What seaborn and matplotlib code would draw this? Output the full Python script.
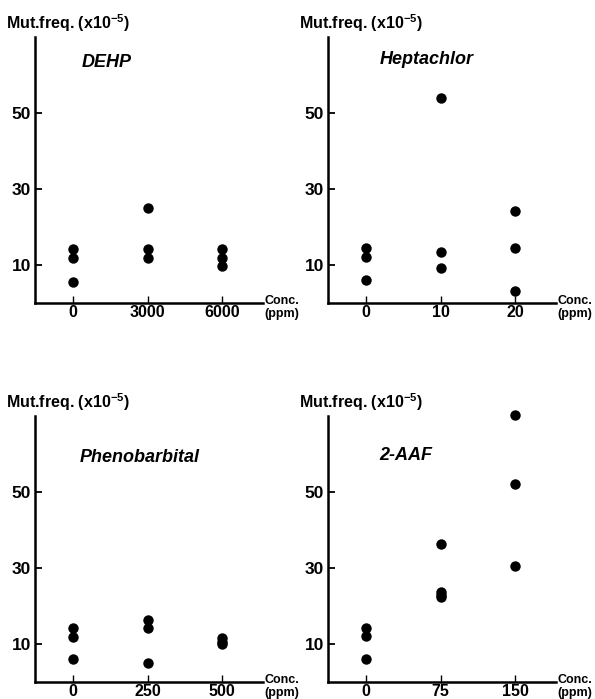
import pandas as pd
import matplotlib
matplotlib.use("Agg")
import matplotlib.pyplot as plt
import seaborn as sns

# values (mutation frequency x10^-5)
chemicals = ["DEHP", "Heptachlor", "Phenobarbital", "2-AAF"]
dose_labels = [["0", "3000", "6000"],
               ["0", "10", "20"],
               ["0", "250", "500"],
               ["0", "75", "150"]]
dose_of_point = [["0", "0", "0", "3000", "3000", "3000", "6000", "6000", "6000"],
                 ["0", "0", "0", "10", "10", "10", "20", "20", "20"],
                 ["0", "0", "0", "250", "250", "250", "500", "500", "500"],
                 ["0", "0", "0", "75", "75", "75", "75", "150", "150", "150"]]
dehp_freq = [14.2, 11.8, 5.5, 25.0, 14.2, 11.8, 14.2, 11.8, 9.7]
heptachlor_freq = [14.5, 12.1, 6.0, 54.0, 13.4, 9.2, 24.2, 14.5, 3.2]
phenobarbital_freq = [14.1, 11.8, 6.0, 16.2, 14.1, 5.0, 11.5, 10.6, 9.9]
aaf_freq = [14.1, 12.0, 6.0, 36.4, 23.8, 23.0, 22.3, 70.2, 52.1, 30.6]
freqs = [dehp_freq, heptachlor_freq, phenobarbital_freq, aaf_freq]
yticks = [10, 30, 50]

sns.set_style("ticks")
plt.rcParams["font.family"] = ["Liberation Sans", "DejaVu Sans"]
plt.rcParams["font.weight"] = "bold"
plt.rcParams["mathtext.fontset"] = "custom"
plt.rcParams["mathtext.bf"] = "Liberation Sans:bold"
plt.rcParams["mathtext.rm"] = "Liberation Sans:bold"
plt.rcParams["mathtext.default"] = "bf"
for k in ["text.color", "axes.labelcolor", "xtick.color", "ytick.color",
          "axes.edgecolor"]:
    plt.rcParams[k] = "black"

fig = plt.figure(figsize=(5.95, 6.99), dpi=100)
W, H = 595, 699
# axes boxes in pixels: left, top, right, bottom
boxes = [(35, 37, 263, 303), (328, 37, 556, 303),
         (35, 416, 263, 682), (328, 416, 556, 682)]
title_pos = [(0.12, 63.4), (0.18, 64.0), (0.09, 59.0), (0.18, 59.7)]

for i, name in enumerate(chemicals):
    l, t, r, b = boxes[i]
    ax = fig.add_axes([l / W, 1 - b / H, (r - l) / W, (b - t) / H])
    df = pd.DataFrame({"dose": dose_of_point[i], "freq": freqs[i]})
    sns.stripplot(data=df, x="dose", y="freq", order=dose_labels[i],
                  jitter=False, color="black", size=7.5, linewidth=0,
                  ax=ax, clip_on=False, zorder=3)
    ax.set_xlim(-0.51, 2.55)
    ax.set_ylim(0, 70)
    ax.set_yticks(yticks)
    ax.set_xlabel("")
    ax.set_ylabel("")
    sns.despine(ax=ax)
    for s in ["left", "bottom"]:
        ax.spines[s].set_linewidth(1.8)
    ax.tick_params(axis="y", direction="in", length=5, width=1.3,
                   labelsize=12.5, pad=3)
    ax.tick_params(axis="x", direction="in", length=5, width=1.0,
                   labelsize=11.5, pad=1.5)
    for lab in ax.get_xticklabels() + ax.get_yticklabels():
        lab.set_fontweight("bold")
    ax.text(title_pos[i][0], title_pos[i][1], name, ha="left", va="center",
            fontsize=13, fontweight="bold", fontstyle="italic")
    ax.annotate(r"Mut.freq. (x10$^{-5}$)", xy=(0, 1), xycoords="axes fraction",
                xytext=(-21, 10), textcoords="offset points",
                ha="left", va="center", fontsize=11.5, fontweight="bold")
    ax.annotate("Conc.\n(ppm)", xy=(1, 0), xycoords="axes fraction",
                xytext=(1, -3), textcoords="offset points",
                ha="left", va="center", fontsize=9, fontweight="bold",
                linespacing=1.1)

fig.savefig("out.png", dpi=100)
